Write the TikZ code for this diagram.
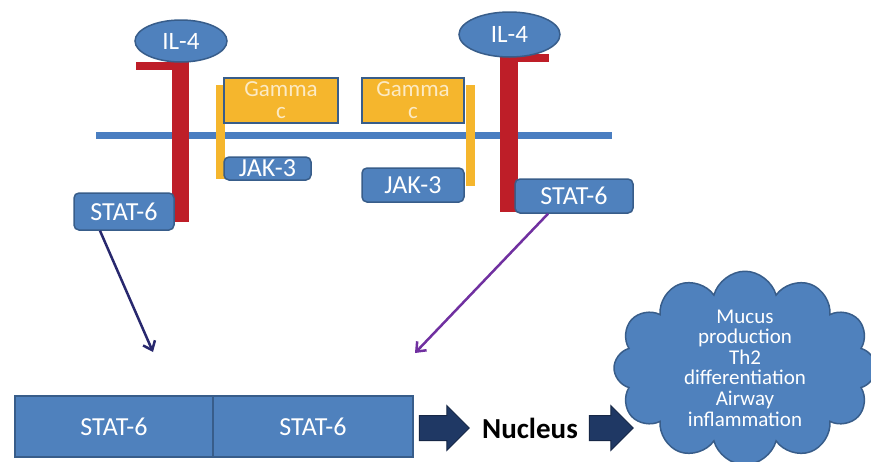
\documentclass[tikz,border=0pt]{standalone}
\usepackage{fontspec}
\setmainfont{Carlito}
\usetikzlibrary{shapes.geometric,shapes.symbols,shapes.arrows,arrows.meta}

\definecolor{boxblue}{RGB}{79,129,189}
\definecolor{boxedge}{RGB}{56,93,138}
\definecolor{membrane}{RGB}{74,126,193}
\definecolor{receptor}{RGB}{190,30,40}
\definecolor{gammafill}{RGB}{245,182,45}
\definecolor{gammatext}{RGB}{252,234,196}
\definecolor{navyarrow}{RGB}{31,56,100}
\definecolor{linknavy}{RGB}{40,40,110}
\definecolor{linkpurple}{RGB}{112,48,160}

\tikzset{
  protein/.style={draw=boxedge, line width=1.5pt, fill=boxblue, text=white,
    rounded corners=5pt, inner sep=0pt, font=\fontsize{26}{28}\selectfont},
  ligand/.style={ellipse, draw=boxedge, line width=1.5pt, fill=boxblue, text=white,
    inner sep=0pt, font=\fontsize{25}{27}\selectfont},
  gammabox/.style={draw=boxedge, line width=1.5pt, fill=gammafill, text=gammatext,
    align=center, inner sep=0pt, minimum height=45pt, font=\fontsize{23}{22}\selectfont},
  dimer/.style={draw=boxedge, line width=1.5pt, fill=boxblue, text=white,
    inner sep=0pt, minimum height=61pt, font=\fontsize{26}{28}\selectfont},
  blockarrow/.style={single arrow, fill=navyarrow, draw=navyarrow!70!black, line width=1pt,
    inner xsep=0pt, inner ysep=12pt, single arrow head extend=10pt, minimum height=50pt},
  link/.style={line width=2.5pt, -{Straight Barb[length=8pt,width=13pt]}}
}

\begin{document}
\begin{tikzpicture}[x=1pt,y=-1pt]
    \useasboundingbox (0,0) rectangle (871,461);
    % membrane
    \draw[membrane, line width=7pt] (96,135) -- (612,135);
    % receptor chains
    \fill[receptor] (172,62) rectangle (189,222);
    \fill[receptor] (136,62) rectangle (172,70);
    \fill[receptor] (500,57) rectangle (518,212);
    \fill[receptor] (518,54) rectangle (549,62);
    % gamma c chains
    \fill[gammafill] (216,85) rectangle (225,179);
    \fill[gammafill] (466,85) rectangle (475,186);
    \node[gammabox, minimum width=114pt] (gammal) at (281,100.5) {Gamma\\c};
    \node[gammabox, minimum width=102pt] (gammar) at (413,100.5) {Gamma\\c};
    % ligands
    \node[ligand, minimum width=92pt, minimum height=42pt] (il4l) at (181,41) {IL-4};
    \node[ligand, minimum width=101pt, minimum height=45pt] (il4r) at (509.5,34.5) {IL-4};
    % kinases and STAT-6
    \node[protein, minimum width=87pt, minimum height=23pt] (jakl) at (267.5,168.5) {JAK-3};
    \node[protein, minimum width=102pt, minimum height=34pt] (jakr) at (413,185) {JAK-3};
    \node[protein, minimum width=100pt, minimum height=37pt] (statl) at (124,211.5) {STAT-6};
    \node[protein, minimum width=118pt, minimum height=34pt] (statr) at (574,196) {STAT-6};
    % dimer
    \node[dimer, minimum width=198pt] (dimerl) at (114,426.5) {STAT-6};
    \node[dimer, minimum width=200pt] (dimerr) at (313,426.5) {STAT-6};
    \coordinate (dockl) at (153,352);
    \coordinate (dockr) at (415,353);
    \draw[link, linknavy] ([xshift=-24pt]statl.south) -- (dockl);
    \draw[link, linkpurple] ([xshift=-26pt]statr.south) -- (dockr);
    % into the nucleus
    \node[blockarrow] (tonucleus) at (438,428) {};
    \node[font=\fontsize{29}{30}\selectfont\bfseries] (nucleus) at (530,428) {Nucleus};
    \node[blockarrow, minimum height=44pt] (toeffects) at (605,428) {};
    \node[cloud, cloud puffs=12, cloud ignores aspect, draw=boxedge, line width=1.5pt,
      fill=boxblue, text=white, align=center, inner sep=0pt,
      minimum width=262pt, minimum height=186pt,
      font=\fontsize{21}{20.6}\selectfont] (effects) at (745,368)
      {Mucus\\production\\Th2\\differentiation\\Airway\\inflammation};
\end{tikzpicture}
\end{document}
